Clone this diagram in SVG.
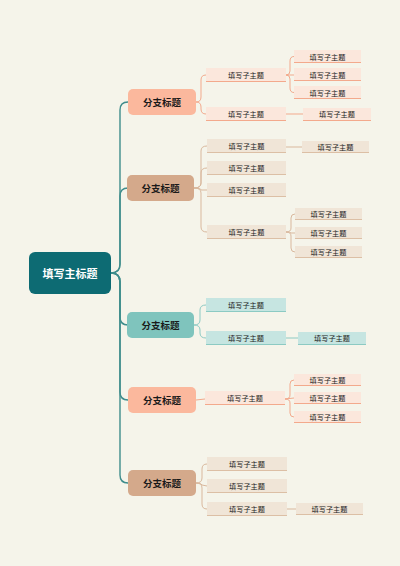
<svg xmlns="http://www.w3.org/2000/svg" width="400" height="566" viewBox="0 0 400 566">
<style>
text{font-family:"Noto Sans CJK SC","Noto Sans",sans-serif;text-anchor:middle;dominant-baseline:central}
.mt{font-size:11px;font-weight:bold;fill:#ffffff}
.bt{font-size:9.5px;font-weight:bold;fill:#1a1a1a}
.ct{font-size:7.2px;fill:#222222}
.trunk{fill:none;stroke:#3f8d8c;stroke-width:1.4}
.cs{fill:none;stroke:#f3a98c;stroke-width:1}
.ctan{fill:none;stroke:#d9b89d;stroke-width:1}
.cteal{fill:none;stroke:#8ccac3;stroke-width:1}
.fs{fill:#fbe7dc}
.ft{fill:#f0e5d7}
.fe{fill:#c6e5e1}
.us{stroke:#f3a98c;stroke-width:1.2}
.ut{stroke:#dcbfa5;stroke-width:1.2}
.ue{stroke:#8ccac3;stroke-width:1.2}
</style>
<rect width="400" height="566" fill="#f5f4ea"/>
<g id="connectors">
<path class="trunk" d="M111,273 Q120,273 120,264 L120,110 Q120,102 128,102"/>
<path class="trunk" d="M111,273 Q120,273 120,264 L120,196 Q120,188 128,188"/>
<path class="trunk" d="M111,273 Q120,273 120,282 L120,317 Q120,325 128,325"/>
<path class="trunk" d="M111,273 Q120,273 120,282 L120,392 Q120,400 128,400"/>
<path class="trunk" d="M111,273 Q120,273 120,282 L120,475 Q120,483 128,483"/>
<path class="cs" d="M196,102 Q201,102 201,97 L201,80 Q201,75 206,75"/>
<path class="cs" d="M196,102 Q201,102 201,107 L201,109 Q201,114 206,114"/>
<path class="cs" d="M286,75 Q290,75 290,71 L290,61 Q290,56.5 294,56.5"/>
<path class="cs" d="M286,75 L294,75"/>
<path class="cs" d="M286,75 Q290,75 290,79 L290,88 Q290,92.5 294,92.5"/>
<path class="cs" d="M286,114 L303,114"/>
<path class="ctan" d="M194,188 Q201,188 201,183 L201,151 Q201,146 207,146"/>
<path class="ctan" d="M194,188 Q201,188 201,183 L201,173 Q201,168 207,168"/>
<path class="ctan" d="M194,188 Q201,188 201,190 L207,190"/>
<path class="ctan" d="M194,188 Q201,188 201,193 L201,227 Q201,232 207,232"/>
<path class="ctan" d="M286,147 L302,147"/>
<path class="ctan" d="M286,232 Q291,232 291,228 L291,218 Q291,214 295,214"/>
<path class="ctan" d="M286,232 Q291,232 291,233 L295,233"/>
<path class="ctan" d="M286,232 Q291,232 291,236 L291,248 Q291,252 295,252"/>
<path class="cteal" d="M194,325 Q200,325 200,320 L200,310 Q200,305 206,305"/>
<path class="cteal" d="M194,325 Q200,325 200,330 L200,333 Q200,338 206,338"/>
<path class="cteal" d="M286,338 L298,338"/>
<path class="cs" d="M196,400 L205,399"/>
<path class="cs" d="M285,399 Q290,399 290,395 L290,384 Q290,380 294,380"/>
<path class="cs" d="M285,399 L294,398"/>
<path class="cs" d="M285,399 Q290,399 290,403 L290,413 Q290,417 294,417"/>
<path class="ctan" d="M196,483 Q202,483 202,478 L202,469 Q202,464 207,464"/>
<path class="ctan" d="M196,483 Q202,483 202,485 L207,486"/>
<path class="ctan" d="M196,483 Q202,483 202,488 L202,504 Q202,509 207,509"/>
<path class="ctan" d="M287,509 L296,509"/>
</g>
<g id="main"><rect x="29" y="252" width="82" height="42" rx="6" fill="#0d6b73"/><text class="mt" x="70" y="273">填写主标题</text></g>
<g id="b1"><rect x="128" y="89" width="68" height="26" rx="5" fill="#fbb89d"/><text class="bt" x="162" y="102">分支标题</text></g>
<g id="b2"><rect x="127" y="175" width="67" height="26" rx="5" fill="#d4a98b"/><text class="bt" x="160.5" y="188">分支标题</text></g>
<g id="b3"><rect x="127" y="312" width="67" height="26" rx="5" fill="#7fc4bd"/><text class="bt" x="160.5" y="325">分支标题</text></g>
<g id="b4"><rect x="128" y="387" width="68" height="26" rx="5" fill="#fbb89d"/><text class="bt" x="162" y="400">分支标题</text></g>
<g id="b5"><rect x="128" y="470" width="68" height="26" rx="5" fill="#d4a98b"/><text class="bt" x="162" y="483">分支标题</text></g>
<g id="c1a"><rect class="fs" x="206" y="68" width="80" height="14"/><line class="us" x1="206" y1="81.5" x2="286" y2="81.5"/><text class="ct" x="246" y="75">填写子主题</text></g>
<g id="c1a1"><rect class="fs" x="294" y="50" width="67" height="13"/><line class="us" x1="294" y1="62.5" x2="361" y2="62.5"/><text class="ct" x="327.5" y="56.5">填写子主题</text></g>
<g id="c1a2"><rect class="fs" x="294" y="68" width="67" height="13"/><line class="us" x1="294" y1="80.5" x2="361" y2="80.5"/><text class="ct" x="327.5" y="74.5">填写子主题</text></g>
<g id="c1a3"><rect class="fs" x="294" y="86" width="67" height="13"/><line class="us" x1="294" y1="98.5" x2="361" y2="98.5"/><text class="ct" x="327.5" y="92.5">填写子主题</text></g>
<g id="c1b"><rect class="fs" x="206" y="107" width="80" height="14"/><line class="us" x1="206" y1="120.5" x2="286" y2="120.5"/><text class="ct" x="246" y="114">填写子主题</text></g>
<g id="c1b1"><rect class="fs" x="303" y="108" width="68" height="13"/><line class="us" x1="303" y1="120.5" x2="371" y2="120.5"/><text class="ct" x="337" y="114">填写子主题</text></g>
<g id="c2a"><rect class="ft" x="207" y="139" width="79" height="14"/><line class="ut" x1="207" y1="152.5" x2="286" y2="152.5"/><text class="ct" x="246.5" y="146">填写子主题</text></g>
<g id="c2a1"><rect class="ft" x="302" y="141" width="67" height="12"/><line class="ut" x1="302" y1="152.5" x2="369" y2="152.5"/><text class="ct" x="335.5" y="147">填写子主题</text></g>
<g id="c2b"><rect class="ft" x="207" y="161" width="79" height="14"/><line class="ut" x1="207" y1="174.5" x2="286" y2="174.5"/><text class="ct" x="246.5" y="168">填写子主题</text></g>
<g id="c2c"><rect class="ft" x="207" y="183" width="79" height="14"/><line class="ut" x1="207" y1="196.5" x2="286" y2="196.5"/><text class="ct" x="246.5" y="190">填写子主题</text></g>
<g id="c2d"><rect class="ft" x="207" y="225" width="79" height="14"/><line class="ut" x1="207" y1="238.5" x2="286" y2="238.5"/><text class="ct" x="246.5" y="232">填写子主题</text></g>
<g id="c2d1"><rect class="ft" x="295" y="208" width="67" height="12"/><line class="ut" x1="295" y1="219.5" x2="362" y2="219.5"/><text class="ct" x="328.5" y="214">填写子主题</text></g>
<g id="c2d2"><rect class="ft" x="295" y="227" width="67" height="12"/><line class="ut" x1="295" y1="238.5" x2="362" y2="238.5"/><text class="ct" x="328.5" y="233">填写子主题</text></g>
<g id="c2d3"><rect class="ft" x="295" y="246" width="67" height="12"/><line class="ut" x1="295" y1="257.5" x2="362" y2="257.5"/><text class="ct" x="328.5" y="252">填写子主题</text></g>
<g id="c3a"><rect class="fe" x="206" y="298" width="80" height="14"/><line class="ue" x1="206" y1="311.5" x2="286" y2="311.5"/><text class="ct" x="246" y="305">填写子主题</text></g>
<g id="c3b"><rect class="fe" x="206" y="331" width="80" height="14"/><line class="ue" x1="206" y1="344.5" x2="286" y2="344.5"/><text class="ct" x="246" y="338">填写子主题</text></g>
<g id="c3b1"><rect class="fe" x="298" y="332" width="68" height="13"/><line class="ue" x1="298" y1="344.5" x2="366" y2="344.5"/><text class="ct" x="332" y="338">填写子主题</text></g>
<g id="c4a"><rect class="fs" x="205" y="391" width="80" height="14"/><line class="us" x1="205" y1="404.5" x2="285" y2="404.5"/><text class="ct" x="245" y="398">填写子主题</text></g>
<g id="c4a1"><rect class="fs" x="294" y="374" width="67" height="12"/><line class="us" x1="294" y1="385.5" x2="361" y2="385.5"/><text class="ct" x="327.5" y="380">填写子主题</text></g>
<g id="c4a2"><rect class="fs" x="294" y="392" width="67" height="12"/><line class="us" x1="294" y1="403.5" x2="361" y2="403.5"/><text class="ct" x="327.5" y="398">填写子主题</text></g>
<g id="c4a3"><rect class="fs" x="294" y="411" width="67" height="12"/><line class="us" x1="294" y1="422.5" x2="361" y2="422.5"/><text class="ct" x="327.5" y="417">填写子主题</text></g>
<g id="c5a"><rect class="ft" x="207" y="457" width="80" height="14"/><line class="ut" x1="207" y1="470.5" x2="287" y2="470.5"/><text class="ct" x="247" y="464">填写子主题</text></g>
<g id="c5b"><rect class="ft" x="207" y="479" width="80" height="14"/><line class="ut" x1="207" y1="492.5" x2="287" y2="492.5"/><text class="ct" x="247" y="486">填写子主题</text></g>
<g id="c5c"><rect class="ft" x="207" y="502" width="80" height="14"/><line class="ut" x1="207" y1="515.5" x2="287" y2="515.5"/><text class="ct" x="247" y="509">填写子主题</text></g>
<g id="c5c1"><rect class="ft" x="296" y="503" width="67" height="12"/><line class="ut" x1="296" y1="514.5" x2="363" y2="514.5"/><text class="ct" x="329.5" y="509">填写子主题</text></g>
</svg>
